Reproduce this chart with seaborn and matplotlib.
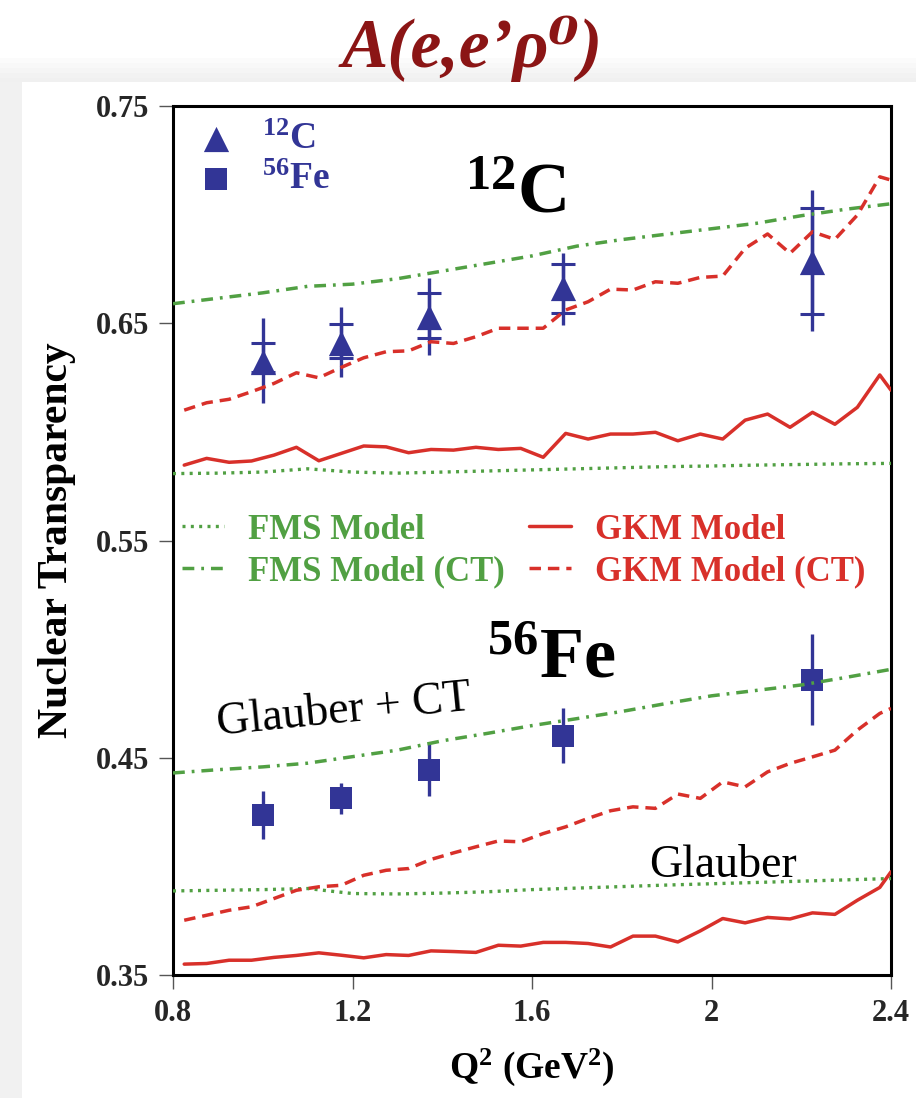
import matplotlib
matplotlib.use("Agg")
import matplotlib.pyplot as plt
import seaborn as sns
from matplotlib.patches import Rectangle

# ---------------- data ----------------
q2_data = [1.0, 1.175, 1.37, 1.67, 2.225]

c_T = [0.632, 0.641, 0.653, 0.666, 0.678]
c_stat_lo = [0.6275, 0.634, 0.643, 0.6546, 0.6541]
c_stat_hi = [0.641, 0.6497, 0.664, 0.6773, 0.7032]
c_tot_lo = [0.6131, 0.6252, 0.6353, 0.6492, 0.6466]
c_tot_hi = [0.6523, 0.6575, 0.671, 0.6825, 0.7113]

fe_T = [0.4237, 0.4314, 0.4442, 0.4601, 0.4859]
fe_lo = [0.4124, 0.4240, 0.4323, 0.4474, 0.4650]
fe_hi = [0.4348, 0.4385, 0.4561, 0.4730, 0.5068]

q2_model = [0.825, 0.875, 0.925, 0.975, 1.025, 1.075, 1.125, 1.175, 1.225,
            1.275, 1.325, 1.375, 1.425, 1.475, 1.525, 1.575, 1.625, 1.675,
            1.725, 1.775, 1.825, 1.875, 1.925, 1.975, 2.025, 2.075, 2.125,
            2.175, 2.225, 2.275, 2.325, 2.375, 2.4]

c_gkm = [0.5847, 0.5878, 0.5860, 0.5866, 0.5893, 0.5929, 0.5867, 0.5901,
         0.5935, 0.5931, 0.5904, 0.5919, 0.5916, 0.5929, 0.5919, 0.5924,
         0.5883, 0.5993, 0.5967, 0.5990, 0.5990, 0.5998, 0.5959, 0.5990,
         0.5967, 0.6054, 0.6082, 0.6021, 0.6090, 0.6035, 0.6113, 0.6262,
         0.6192]
c_gkm_ct = [0.6100, 0.6134, 0.6150, 0.6185, 0.6223, 0.6272, 0.6249, 0.6297,
            0.6341, 0.6369, 0.6373, 0.6415, 0.6407, 0.6438, 0.6477, 0.6477,
            0.6477, 0.6561, 0.6599, 0.6657, 0.6653, 0.6691, 0.6684, 0.6711,
            0.6717, 0.6845, 0.6911, 0.6822, 0.6921, 0.6886, 0.6998, 0.7174,
            0.7159]
fe_gkm = [0.3550, 0.3553, 0.3568, 0.3568, 0.3581, 0.3590, 0.3602, 0.3591,
          0.3579, 0.3594, 0.3590, 0.3611, 0.3608, 0.3604, 0.3637, 0.3633,
          0.3650, 0.3650, 0.3645, 0.3629, 0.3679, 0.3679, 0.3652, 0.3703,
          0.3760, 0.3740, 0.3765, 0.3758, 0.3786, 0.3779, 0.3844, 0.3903,
          0.3975]
fe_gkm_ct = [0.3752, 0.3775, 0.3798, 0.3814, 0.3852, 0.3890, 0.3906, 0.3913,
             0.3959, 0.3982, 0.3990, 0.4032, 0.4062, 0.4090, 0.4117, 0.4113,
             0.4151, 0.4182, 0.4221, 0.4256, 0.4274, 0.4267, 0.4333, 0.4313,
             0.4389, 0.4366, 0.4435, 0.4474, 0.4504, 0.4535, 0.4627, 0.4704,
             0.4727]

q2_fms = [0.8, 0.9, 1.0, 1.1, 1.2, 1.3, 1.4, 1.5, 1.6, 1.7, 1.8, 1.9, 2.0,
          2.1, 2.2, 2.3, 2.4]
c_fms = [0.5808, 0.5810, 0.5815, 0.5830, 0.5815, 0.5810, 0.5815, 0.5820,
         0.5825, 0.5830, 0.5835, 0.5840, 0.5843, 0.5847, 0.5850, 0.5853,
         0.5855]
c_fms_ct = [0.6590, 0.6615, 0.6640, 0.6670, 0.6680, 0.6705, 0.6740, 0.6775,
            0.6810, 0.6855, 0.6885, 0.6910, 0.6935, 0.6960, 0.6995, 0.7025,
            0.7050]
fe_fms = [0.3887, 0.3890, 0.3893, 0.3898, 0.3875, 0.3873, 0.3877, 0.3883,
          0.3893, 0.3900, 0.3907, 0.3914, 0.3920, 0.3926, 0.3932, 0.3938,
          0.3944]
fe_fms_ct = [0.4430, 0.4445, 0.4458, 0.4475, 0.4505, 0.4535, 0.4578, 0.4612,
             0.4648, 0.4680, 0.4713, 0.4750, 0.4785, 0.4810, 0.4835, 0.4870,
             0.4907]

x_ticks = [0.8, 1.2, 1.6, 2.0, 2.4]
x_ticklabels = ["0.8", "1.2", "1.6", "2", "2.4"]
y_ticks = [0.35, 0.45, 0.55, 0.65, 0.75]
y_ticklabels = ["0.35", "0.45", "0.55", "0.65", "0.75"]

# ---------------- style ----------------
sns.set_theme(style="ticks")
plt.rcParams["font.family"] = ["Liberation Serif", "DejaVu Serif"]
plt.rcParams["mathtext.fontset"] = "custom"
plt.rcParams["mathtext.rm"] = "Liberation Serif:bold"
plt.rcParams["mathtext.bf"] = "Liberation Serif:bold"
plt.rcParams["mathtext.it"] = "Liberation Serif:italic:bold"
plt.rcParams["mathtext.default"] = "bf"

BLUE = "#323596"
GREEN = "#51A043"
RED = "#D8302A"
TITLE_RED = "#8B1515"

fig = plt.figure(figsize=(9.16, 10.98), dpi=100)
fig.patch.set_facecolor("white")
# light grey page edge / soft shadow
W, H = 916.0, 1098.0
shades = ["#fbfbfb", "#f8f8f8", "#f5f5f5", "#f2f2f2", "#f0f0f0"]
for i, c in enumerate(shades):
    y0 = 58 + i * 5
    fig.add_artist(Rectangle((0, 1 - 82 / H), 1, (82 - y0) / H, transform=fig.transFigure,
                             color=c, zorder=-10 + i * 0.01, lw=0))
fig.add_artist(Rectangle((0, 0), 22 / W, 1 - 82 / H, transform=fig.transFigure,
                         color="#f1f1f1", zorder=-10, lw=0))
fig.add_artist(Rectangle((22 / W, 0), 1 - 22 / W, 1 - 82 / H, transform=fig.transFigure,
                         color="white", zorder=-9, lw=0))

ax = fig.add_axes([173 / W, 1 - 975 / H, 718 / W, 869 / H])
ax.set_facecolor("white")

# ---------------- model curves ----------------
dash = (0, (3.3, 2.0))
dashdot = (0, (3.4, 2.0, 0.8, 2.0))
dot = (0, (0.9, 1.6))

sns.lineplot(x=q2_fms, y=c_fms, color=GREEN, linestyle=dot, linewidth=2.4, ax=ax,
             estimator=None, zorder=3)
sns.lineplot(x=q2_fms, y=c_fms_ct, color=GREEN, linestyle=dashdot, linewidth=2.5, ax=ax,
             estimator=None, zorder=3)
sns.lineplot(x=q2_model, y=c_gkm, color=RED, linestyle="-", linewidth=2.5, ax=ax,
             estimator=None, zorder=3)
sns.lineplot(x=q2_model, y=c_gkm_ct, color=RED, linestyle=dash, linewidth=2.5, ax=ax,
             estimator=None, zorder=3)
sns.lineplot(x=q2_fms, y=fe_fms, color=GREEN, linestyle=dot, linewidth=2.4, ax=ax,
             estimator=None, zorder=3)
sns.lineplot(x=q2_fms, y=fe_fms_ct, color=GREEN, linestyle=dashdot, linewidth=2.5, ax=ax,
             estimator=None, zorder=3)
sns.lineplot(x=q2_model, y=fe_gkm, color=RED, linestyle="-", linewidth=2.5, ax=ax,
             estimator=None, zorder=3)
sns.lineplot(x=q2_model, y=fe_gkm_ct, color=RED, linestyle=dash, linewidth=2.5, ax=ax,
             estimator=None, zorder=3)

# ---------------- data points ----------------
c_tot_err = [[t - lo for t, lo in zip(c_T, c_tot_lo)], [hi - t for t, hi in zip(c_T, c_tot_hi)]]
c_stat_err = [[t - lo for t, lo in zip(c_T, c_stat_lo)], [hi - t for t, hi in zip(c_T, c_stat_hi)]]
fe_err = [[t - lo for t, lo in zip(fe_T, fe_lo)], [hi - t for t, hi in zip(fe_T, fe_hi)]]

ax.errorbar(q2_data, c_T, yerr=c_tot_err, fmt="none", ecolor=BLUE, elinewidth=2.4,
            capsize=0, zorder=2)
ax.errorbar(q2_data, c_T, yerr=c_stat_err, fmt="none", ecolor=BLUE, elinewidth=2.4,
            capsize=8.6, capthick=2.2, zorder=2)
ax.errorbar(q2_data, fe_T, yerr=fe_err, fmt="none", ecolor=BLUE, elinewidth=2.4,
            capsize=0, zorder=2)

sns.scatterplot(x=q2_data, y=c_T, marker="^", s=330, color=BLUE, linewidth=0, ax=ax,
                zorder=2.5)
h_c = ax.collections[-1]
sns.scatterplot(x=q2_data, y=fe_T, marker="s", s=250, color=BLUE, linewidth=0, ax=ax,
                zorder=2.5)
h_fe = ax.collections[-1]

# ---------------- axes ----------------
ax.set_xlim(0.8, 2.4)
ax.set_ylim(0.35, 0.75)
ax.set_xticks(x_ticks)
ax.set_xticklabels(x_ticklabels)
ax.set_yticks(y_ticks)
ax.set_yticklabels(y_ticklabels)
ax.tick_params(axis="both", direction="out", length=10, width=1.0, color="#555555",
               labelsize=22, pad=7, top=False, right=False)
for lab in ax.get_xticklabels() + ax.get_yticklabels():
    lab.set_fontweight("bold")
for sp in ax.spines.values():
    sp.set_visible(True)
    sp.set_color("black")
    sp.set_linewidth(2.2)

ax.set_xlabel(r"$\mathbf{Q^2\ (GeV^2)}$", fontsize=27, color="black")
ax.xaxis.set_label_coords(0.5, -0.082)
ax.set_ylabel("Nuclear Transparency", fontsize=30, fontweight="bold", color="black")
ax.yaxis.set_label_coords(-0.135, 0.5)

# ---------------- legends ----------------
leg1 = ax.legend([h_c, h_fe], [r"$\mathbf{^{12}C}$", r"$\mathbf{^{56}Fe}$"],
                 loc="center left", bbox_to_anchor=(0.028, 0.938), frameon=False,
                 fontsize=27, labelcolor=BLUE, handlelength=1.2, handletextpad=0.65,
                 labelspacing=0.15, borderpad=0, borderaxespad=0)
ax.add_artist(leg1)

fms_h = ax.lines[0]
fms_ct_h = ax.lines[1]
gkm_h = ax.lines[2]
gkm_ct_h = ax.lines[3]
leg2 = ax.legend([fms_h, fms_ct_h, gkm_h, gkm_ct_h],
                 ["FMS Model", "FMS Model (CT)", "GKM Model", "GKM Model (CT)"],
                 loc="center left", bbox_to_anchor=(0.0125, 0.488), ncol=2,
                 frameon=False, prop={"size": 25, "weight": "bold"},
                 handlelength=1.2, handletextpad=0.7, columnspacing=0.7,
                 labelspacing=0.25, borderpad=0, borderaxespad=0)
for t, c in zip(leg2.get_texts(), [GREEN, GREEN, RED, RED]):
    t.set_color(c)

# ---------------- annotations ----------------
ax.text(1.450, 0.7012, r"$\mathbf{^{12}C}$", fontsize=52, color="black",
        ha="left", va="baseline")
ax.text(1.499, 0.4871, r"$\mathbf{^{56}Fe}$", fontsize=52, color="black",
        ha="left", va="baseline")
ax.text(0.900, 0.4604, "Glauber + CT", fontsize=33, color="black", ha="left",
        va="baseline", rotation=5.7, rotation_mode="anchor")
ax.text(1.862, 0.3950, "Glauber", fontsize=33, color="black", ha="left",
        va="baseline")

fig.text(0.515, 0.956, "A(e,e\u2019\u03c1\u2070)", fontsize=50, fontweight="bold",
         fontstyle="italic", color=TITLE_RED, ha="center", va="center")

fig.savefig("out.png", dpi=100, facecolor=fig.get_facecolor())
